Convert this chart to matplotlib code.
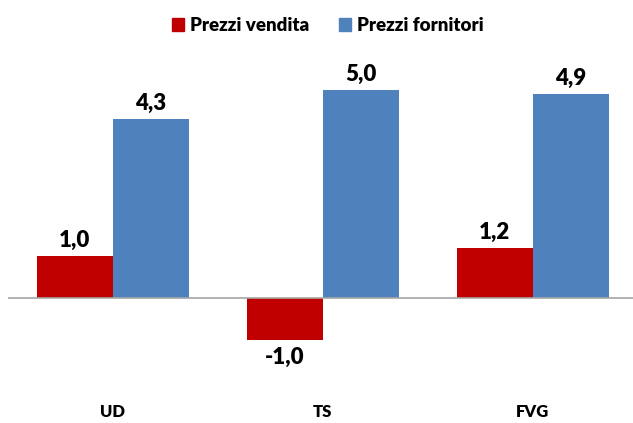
import matplotlib.pyplot as plt
import matplotlib.transforms as mtransforms
import numpy as np
from matplotlib.patches import Patch

# dati
categorie = ["UD", "TS", "FVG"]
prezzi_vendita = [1.0, -1.0, 1.2]
prezzi_fornitori = [4.3, 5.0, 4.9]
serie = ["Prezzi vendita", "Prezzi fornitori"]

plt.rcParams['font.family'] = ['Lato', 'DejaVu Sans']

rosso = "#C00000"
blu = "#4F81BD"
x = np.arange(len(categorie))
w = 0.362

fig = plt.figure(figsize=(6.33, 4.23), dpi=100)
ax = fig.add_axes([0.0126, 0.148, 0.995, 0.688])

b1 = ax.bar(x - w / 2, prezzi_vendita, w, color=rosso)
b2 = ax.bar(x + w / 2, prezzi_fornitori, w, color=blu)

# etichette valori
for bars, vals in [(b1, prezzi_vendita), (b2, prezzi_fornitori)]:
    for b, v in zip(bars, vals):
        lab = f"{v:.1f}".replace(".", ",")
        cx = b.get_x() + b.get_width() / 2
        if v >= 0:
            ax.annotate(lab, (cx, v), xytext=(0, 4), textcoords="offset points",
                        ha="center", va="bottom", fontsize=16, fontweight="heavy")
        else:
            ax.annotate(lab, (cx, v), xytext=(0, -5), textcoords="offset points",
                        ha="center", va="top", fontsize=16, fontweight="heavy")

ax.axhline(0, color="#A6A6A6", lw=1.2)
ax.set_xlim(-0.5, 2.5)
ax.set_ylim(-1.5, 5.5)
ax.axis("off")

# etichette categorie
trans = mtransforms.blended_transform_factory(ax.transData, fig.transFigure)
for xi, c in zip(x, categorie):
    ax.text(xi, 0.027, c, transform=trans, ha="center", va="center",
            fontsize=12, fontweight="heavy")

handles = [Patch(color=rosso), Patch(color=blu)]
fig.legend(handles, serie, loc="center", bbox_to_anchor=(0.518, 0.94), ncol=2,
           frameon=False, prop={"weight": "heavy", "size": 13.5},
           handlelength=0.65, handleheight=0.65, handletextpad=0.3, columnspacing=1.6)

fig.savefig("out.png", dpi=100)
